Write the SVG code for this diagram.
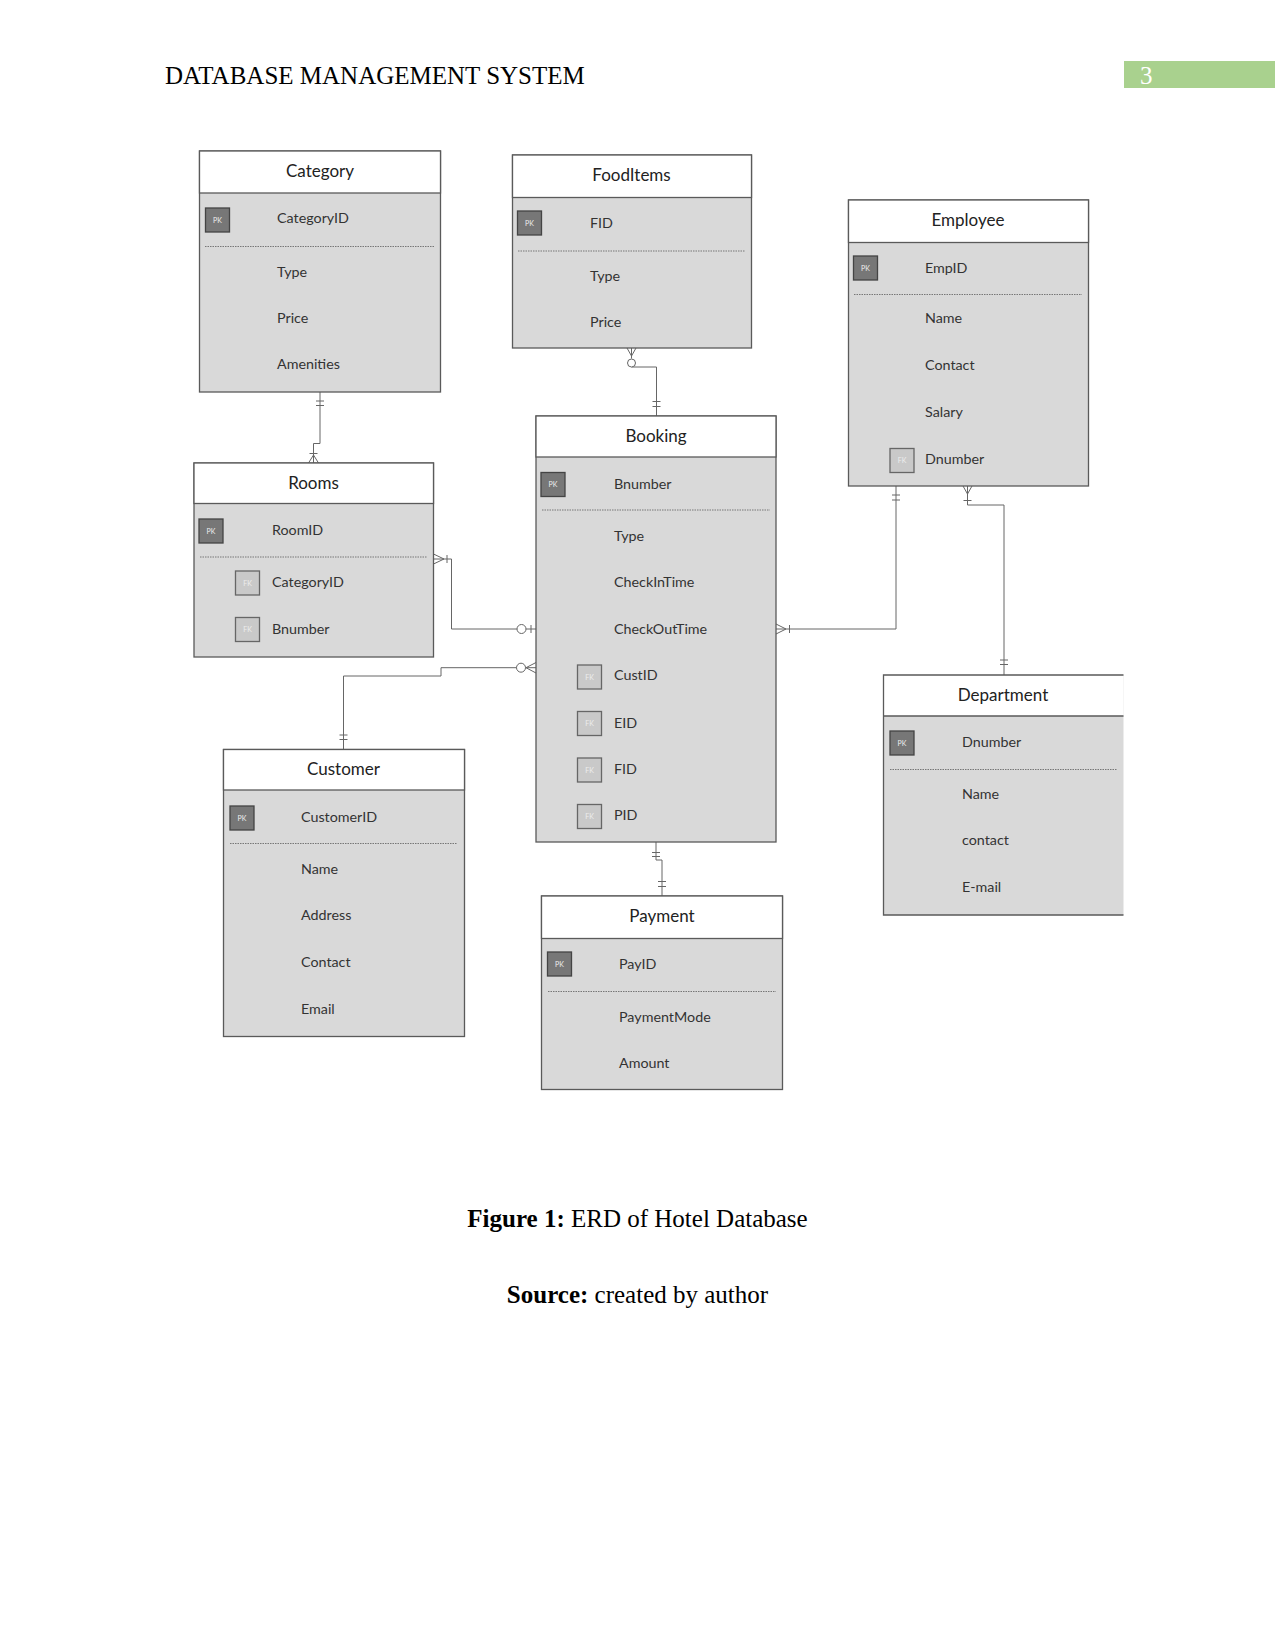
<svg xmlns="http://www.w3.org/2000/svg" width="1275" height="1651" viewBox="0 0 1275 1651">
<style>
.page{font-family:"Liberation Serif","Times New Roman",serif;font-size:25px;fill:#000}
.body{fill:#d9d9d9;stroke:#5a5a5a;stroke-width:1.3}
.head{fill:#ffffff;stroke:#5a5a5a;stroke-width:1.3}
.title{font-family:Lato,"Open Sans",sans-serif;font-size:17px;fill:#222;text-anchor:middle}
.attr{font-family:Lato,"Open Sans",sans-serif;font-size:14.3px;fill:#333}
.sep{stroke:#777;stroke-width:1;stroke-dasharray:1.5 1}
.pk{fill:#777;stroke:#444;stroke-width:1.3}
.fk{fill:#c9c9c9;stroke:#666;stroke-width:1.3}
.key{font-family:Lato,"Open Sans",sans-serif;font-size:7px;fill:#eee;text-anchor:middle}
.conn{fill:none;stroke:#666;stroke-width:1}
.circ{fill:#fff;stroke:#666;stroke-width:1}
</style>

<g id="page-header">
<text class="page" x="165" y="84">DATABASE MANAGEMENT SYSTEM</text>
<rect x="1124" y="61" width="151" height="27" fill="#a9d18e"/>
<text x="1140" y="84" font-family="Liberation Serif, serif" font-size="25" fill="#fff">3</text>
</g>

<g id="connectors">
<!-- Category - Rooms -->
<path class="conn" d="M320,392 V443.5 H313.5 V463"/>
<path class="conn" d="M316,401 H324 M316,405.5 H324"/>
<path class="conn" d="M309.5,453.5 H317.5 M313.5,455 L308.5,463 M313.5,455 L318.5,463"/>
<!-- FoodItems - Booking -->
<path class="conn" d="M631.5,348 V358.5 M631.5,367 H656.5 V416"/>
<path class="conn" d="M631.5,356 L627,348 M631.5,356 L636,348"/>
<circle class="circ" cx="631.5" cy="363" r="4"/>
<path class="conn" d="M652.5,401.5 H660.5 M652.5,406.5 H660.5"/>
<!-- Rooms - Booking -->
<path class="conn" d="M433.5,559 H451.5 V629 H536"/>
<path class="conn" d="M444,559 L433.5,554 M444,559 L433.5,564 M447,555 V563"/>
<circle class="circ" cx="521.5" cy="629" r="4.5"/>
<path class="conn" d="M531,625 V633"/>
<!-- Customer - Booking -->
<path class="conn" d="M343.5,749.5 V676 H441 V667.7 H536"/>
<path class="conn" d="M339.5,735 H347.5 M339.5,739.5 H347.5"/>
<circle class="circ" cx="521" cy="667.7" r="4.5"/>
<path class="conn" d="M526,667.7 L536,662.5 M526,667.7 L536,673"/>
<!-- Booking - Employee -->
<path class="conn" d="M776,629 H896 V486"/>
<path class="conn" d="M786,629 L776,624 M786,629 L776,634 M789.5,625 V633"/>
<path class="conn" d="M892,495 H900 M892,500 H900"/>
<!-- Employee - Department -->
<path class="conn" d="M967.5,486 V505 H1004 V675"/>
<path class="conn" d="M967.5,494 L963,486 M967.5,494 L972,486 M963.5,500.5 H971.5"/>
<path class="conn" d="M1000,660 H1008 M1000,664.5 H1008"/>
<!-- Booking - Payment -->
<path class="conn" d="M656,842 V860 H662 V896"/>
<path class="conn" d="M652,852.5 H660 M652,856.5 H660"/>
<path class="conn" d="M658,881.5 H666 M658,886.5 H666"/>
</g>

<g id="category">
<rect class="body" x="199.5" y="151" width="241" height="241"/>
<rect class="head" x="199.5" y="151" width="241" height="42"/>
<text class="title" x="320" y="177">Category</text>
<rect class="pk" x="205.5" y="208" width="24" height="24"/><text class="key" x="217.5" y="222.5">PK</text>
<text class="attr" x="277" y="223">CategoryID</text>
<line class="sep" x1="205" y1="246.5" x2="434" y2="246.5"/>
<text class="attr" x="277" y="277">Type</text>
<text class="attr" x="277" y="323">Price</text>
<text class="attr" x="277" y="369">Amenities</text>
</g>

<g id="fooditems">
<rect class="body" x="512.5" y="155" width="239" height="193"/>
<rect class="head" x="512.5" y="155" width="239" height="42.5"/>
<text class="title" x="631.5" y="181">FoodItems</text>
<rect class="pk" x="517.5" y="211" width="24" height="24"/><text class="key" x="529.5" y="225.5">PK</text>
<text class="attr" x="590" y="228">FID</text>
<line class="sep" x1="518" y1="251" x2="745" y2="251"/>
<text class="attr" x="590" y="281">Type</text>
<text class="attr" x="590" y="327">Price</text>
</g>

<g id="employee">
<rect class="body" x="848.5" y="200" width="240" height="286"/>
<rect class="head" x="848.5" y="200" width="240" height="42.5"/>
<text class="title" x="968" y="226">Employee</text>
<rect class="pk" x="853.5" y="256" width="24" height="24"/><text class="key" x="865.5" y="270.5">PK</text>
<text class="attr" x="925" y="273">EmpID</text>
<line class="sep" x1="854" y1="294.5" x2="1082" y2="294.5"/>
<text class="attr" x="925" y="323">Name</text>
<text class="attr" x="925" y="370">Contact</text>
<text class="attr" x="925" y="417">Salary</text>
<rect class="fk" x="890" y="448.5" width="24" height="24"/><text class="key" x="902" y="463">FK</text>
<text class="attr" x="925" y="464">Dnumber</text>
</g>

<g id="rooms">
<rect class="body" x="194" y="463" width="239.5" height="194"/>
<rect class="head" x="194" y="463" width="239.5" height="40.5"/>
<text class="title" x="313.5" y="489">Rooms</text>
<rect class="pk" x="199" y="519" width="24" height="24"/><text class="key" x="211" y="533.5">PK</text>
<text class="attr" x="272" y="535">RoomID</text>
<line class="sep" x1="200" y1="557" x2="427" y2="557"/>
<rect class="fk" x="235.5" y="571" width="24" height="24"/><text class="key" x="247.5" y="585.5">FK</text>
<text class="attr" x="272" y="587">CategoryID</text>
<rect class="fk" x="235.5" y="617.5" width="24" height="24"/><text class="key" x="247.5" y="632">FK</text>
<text class="attr" x="272" y="633.5">Bnumber</text>
</g>

<g id="booking">
<rect class="body" x="536" y="416" width="240" height="426"/>
<rect class="head" x="536" y="416" width="240" height="41"/>
<text class="title" x="656" y="442">Booking</text>
<rect class="pk" x="541" y="472.5" width="24" height="24"/><text class="key" x="553" y="487">PK</text>
<text class="attr" x="614" y="489">Bnumber</text>
<line class="sep" x1="542" y1="510" x2="770" y2="510"/>
<text class="attr" x="614" y="541">Type</text>
<text class="attr" x="614" y="587">CheckInTime</text>
<text class="attr" x="614" y="633.5">CheckOutTime</text>
<rect class="fk" x="577.5" y="665" width="24" height="24"/><text class="key" x="589.5" y="679.5">FK</text>
<text class="attr" x="614" y="680">CustID</text>
<rect class="fk" x="577.5" y="711.5" width="24" height="24"/><text class="key" x="589.5" y="726">FK</text>
<text class="attr" x="614" y="727.5">EID</text>
<rect class="fk" x="577.5" y="758" width="24" height="24"/><text class="key" x="589.5" y="772.5">FK</text>
<text class="attr" x="614" y="773.5">FID</text>
<rect class="fk" x="577.5" y="804.5" width="24" height="24"/><text class="key" x="589.5" y="819">FK</text>
<text class="attr" x="614" y="820">PID</text>
</g>

<g id="customer">
<rect class="body" x="223.5" y="749.5" width="241" height="287"/>
<rect class="head" x="223.5" y="749.5" width="241" height="40.5"/>
<text class="title" x="343.5" y="775">Customer</text>
<rect class="pk" x="230" y="806" width="24" height="24"/><text class="key" x="242" y="820.5">PK</text>
<text class="attr" x="301" y="822">CustomerID</text>
<line class="sep" x1="230" y1="843.5" x2="457" y2="843.5"/>
<text class="attr" x="301" y="873.5">Name</text>
<text class="attr" x="301" y="920">Address</text>
<text class="attr" x="301" y="967">Contact</text>
<text class="attr" x="301" y="1013.5">Email</text>
</g>

<g id="payment">
<rect class="body" x="541.5" y="896" width="241" height="193.5"/>
<rect class="head" x="541.5" y="896" width="241" height="42.5"/>
<text class="title" x="662" y="922">Payment</text>
<rect class="pk" x="547.5" y="952" width="24" height="24"/><text class="key" x="559.5" y="966.5">PK</text>
<text class="attr" x="619" y="968.5">PayID</text>
<line class="sep" x1="548" y1="991.5" x2="776" y2="991.5"/>
<text class="attr" x="619" y="1022">PaymentMode</text>
<text class="attr" x="619" y="1068">Amount</text>
</g>

<g id="department">
<rect x="883.5" y="675" width="240" height="240" fill="#d9d9d9"/>
<rect x="883.5" y="675" width="240" height="41" fill="#fff"/>
<path d="M1123.5,675 H883.5 V915 H1123.5 M883.5,716 H1123.5" fill="none" stroke="#5a5a5a" stroke-width="1.3"/>
<text class="title" x="1003" y="701">Department</text>
<rect class="pk" x="890" y="731" width="24" height="24"/><text class="key" x="902" y="745.5">PK</text>
<text class="attr" x="962" y="747">Dnumber</text>
<line class="sep" x1="890" y1="769.5" x2="1117" y2="769.5"/>
<text class="attr" x="962" y="798.5">Name</text>
<text class="attr" x="962" y="845">contact</text>
<text class="attr" x="962" y="892">E-mail</text>
</g>

<g id="caption">
<text class="page" x="637.5" y="1227" text-anchor="middle"><tspan font-weight="bold">Figure 1:</tspan> ERD of Hotel Database</text>
<text class="page" x="637.5" y="1303" text-anchor="middle"><tspan font-weight="bold">Source:</tspan> created by author</text>
</g>
</svg>
